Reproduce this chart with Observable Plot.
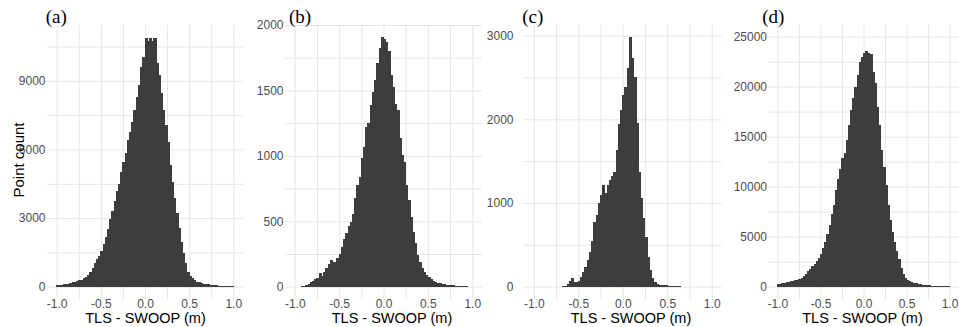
<!DOCTYPE html>
<html><head><meta charset="utf-8">
<script src="https://cdn.jsdelivr.net/npm/d3@7"></script>
<script src="https://cdn.jsdelivr.net/npm/@observablehq/plot@0.6"></script>
<style>
html,body{margin:0;padding:0;background:#fff;}
#fig{position:relative;width:959px;height:327px;overflow:hidden;font-family:"Liberation Sans",Arial,sans-serif;}
#fig svg{position:absolute;top:0;overflow:visible;}
#fig svg text{font-family:"Liberation Sans",Arial,sans-serif;font-size:12px;fill:#4d4d4d;}
#fig svg rect{shape-rendering:crispEdges;}
.tag{position:absolute;font-family:"Liberation Serif","Times New Roman",serif;font-size:19px;line-height:1;color:#000;white-space:nowrap;}
.xt{position:absolute;top:311px;font-size:14.5px;line-height:1;color:#000;transform:translateX(-50%);white-space:nowrap;}
.yt{position:absolute;font-size:15px;line-height:1;color:#000;white-space:nowrap;transform:translate(-50%,-50%) rotate(-90deg);}
</style></head><body><div id="fig"></div>
<script>
// Histogram bins: 80 bins of width 0.025 from -1.0 to 1.0
const binStart = -1.0;
const binWidth = 0.025;

const countsA = [58,73,87,102,117,131,160,190,219,248,
  277,306,365,437,525,627,802,1035,1196,1356,
  1560,1852,2158,2522,2960,3324,3747,4184,4476,5030,
  5468,5832,6415,6780,7217,7727,8311,8821,9623,10060,
  10890,10750,10890,10750,10880,9768,9258,8456,7727,7071,
  6342,5322,4593,3864,3208,2552,1968,1458,1021,656,
  481,365,277,219,190,160,131,117,102,87,
  73,65,58,50,44,38,30,25,20,15];

const countsB = [0,0,0,2,8,13,23,33,40,59,
  69,102,84,110,140,171,201,191,186,217,
  247,306,364,408,464,497,553,675,777,841,
  981,1070,1223,1249,1389,1491,1580,1707,1822,1906,
  1893,1868,1801,1618,1529,1394,1350,1134,1006,955,
  777,662,535,420,331,242,186,145,115,89,
  71,56,46,38,31,25,20,17,15,13,
  11,10,8,7,5,4,3,2,1,0];

const countsC = [0,0,0,0,0,0,0,0,0,0,
  0,0,0,3,12,28,68,100,60,60,
  72,120,179,239,319,418,546,777,857,996,
  1090,1210,1120,1215,1275,1327,1366,1633,1940,2111,
  2291,2390,2610,2988,2729,2510,1952,1374,1056,817,
  598,359,199,108,60,36,24,20,16,16,
  12,12,12,8,8,4,0,0,0,0,
  0,0,0,0,0,0,0,0,0,0];

const countsD = [233,267,333,367,433,500,533,600,667,700,
  767,900,1067,1300,1533,1767,2033,2267,2567,2900,
  3300,3900,4500,5267,6167,7233,8167,9667,10767,11767,
  12833,13400,14667,16167,17667,18833,20000,21167,22500,23000,
  23333,23567,23400,23233,21500,20333,18000,16167,13667,12000,
  10167,8167,6667,5500,4500,3567,2733,1900,1233,900,
  700,567,467,400,333,267,233,200,167,150,
  133,117,100,83,67,60,50,40,33,25];

const panelTags = ["(a)", "(b)", "(c)", "(d)"];
const xTicks = [-1.0, -0.5, 0.0, 0.5, 1.0];
const xGrid = [-1.0, -0.75, -0.5, -0.25, 0.0, 0.25, 0.5, 0.75, 1.0];
const yTicksA = [0, 3000, 6000, 9000];
const yTicksB = [0, 500, 1000, 1500, 2000];
const yTicksC = [0, 1000, 2000, 3000];
const yTicksD = [0, 5000, 10000, 15000, 20000, 25000];
const yGridA = [0, 1500, 3000, 4500, 6000, 7500, 9000, 10500];
const yGridB = [0, 250, 500, 750, 1000, 1250, 1500, 1750, 2000];
const yGridC = [0, 500, 1000, 1500, 2000, 2500, 3000];
const yGridD = [0, 2500, 5000, 7500, 10000, 12500, 15000, 17500, 20000, 22500, 25000];
const xLabel = "TLS - SWOOP (m)";
const yLabel = "Point count";

// layout (positions/styles)
const layout = [
  {counts: countsA, ticks: yTicksA, grid: yGridA, domain: [-573, 11444], left: 47, right: 243, pad: 2, tagX: 45.7, titleX: 145.5},
  {counts: countsB, ticks: yTicksB, grid: yGridB, domain: [-100, 2000], left: 285, right: 482, pad: 2, tagX: 289, titleX: 392},
  {counts: countsC, ticks: yTicksC, grid: yGridC, domain: [-157, 3127], left: 523.5, right: 721, pad: 11, tagX: 522.3, titleX: 631},
  {counts: countsD, ticks: yTicksD, grid: yGridD, domain: [-1310, 26170], left: 768, right: 959, pad: 1.5, tagX: 762.3, titleX: 862.5}
];

const fig = document.getElementById("fig");
const ML = 50;
layout.forEach((p, k) => {
  const data = p.counts.map((c, i) => ({x1: binStart + i * binWidth, x2: binStart + (i + 1) * binWidth, count: c}));
  const fw = p.right - p.left;
  const svg = Plot.plot({
    width: ML + fw,
    height: 327,
    marginLeft: ML,
    marginRight: 0,
    marginTop: 25,
    marginBottom: 27.2,
    style: {background: "transparent", color: "#4d4d4d", fontSize: "12px", fontFamily: "'Liberation Sans', Arial, sans-serif"},
    x: {domain: [-1.11, 1.11], ticks: xTicks, tickFormat: d => d.toFixed(1), tickSize: 0, tickPadding: -0.5, label: null},
    y: {domain: p.domain, ticks: p.ticks, tickFormat: d => String(d), tickSize: 0, tickPadding: p.pad, label: null},
    marks: [
      Plot.ruleX(xGrid, {x: d => d, stroke: "#e6e6e6", strokeWidth: 1}),
      Plot.ruleY(p.grid, {y: d => d, stroke: "#e6e6e6", strokeWidth: 1}),
      Plot.rect(data, {x1: "x1", x2: "x2", y1: 0, y2: "count", fill: "#3d3d3d", insetLeft: -0.5, insetRight: -0.5})
    ]
  });
  svg.style.left = (p.left - ML) + "px";
  fig.appendChild(svg);

  const tag = document.createElement("div");
  tag.className = "tag";
  tag.textContent = panelTags[k];
  tag.style.left = p.tagX + "px";
  tag.style.top = "7.4px";
  fig.appendChild(tag);

  const xt = document.createElement("div");
  xt.className = "xt";
  xt.textContent = xLabel;
  xt.style.left = p.titleX + "px";
  fig.appendChild(xt);
});

const yt = document.createElement("div");
yt.className = "yt";
yt.textContent = yLabel;
yt.style.left = "17.5px";
yt.style.top = "160px";
fig.appendChild(yt);
</script>
</body></html>
